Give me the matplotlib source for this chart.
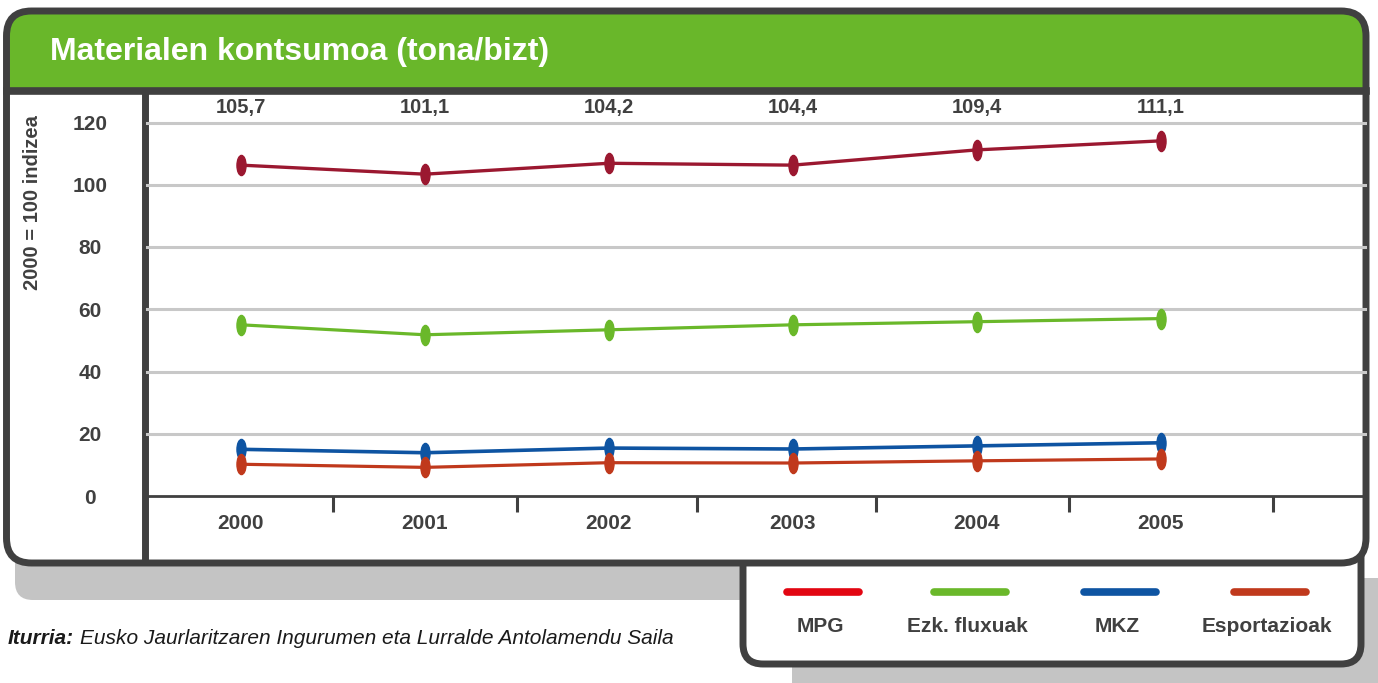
import numpy as np
import matplotlib
matplotlib.use("Agg")
import matplotlib.pyplot as plt
from matplotlib.patches import FancyBboxPatch, Rectangle
from matplotlib.path import Path

plt.rcParams['font.family'] = ['Liberation Sans', 'DejaVu Sans']

# data
years = ['2000', '2001', '2002', '2003', '2004', '2005']
mpg = [106.3, 103.4, 106.9, 106.3, 111.2, 114.1]
ezk = [55.0, 51.8, 53.4, 55.0, 56.0, 57.0]
mkz = [15.0, 13.9, 15.4, 15.1, 16.1, 17.1]
esport = [10.2, 9.2, 10.7, 10.6, 11.3, 11.9]
mpg_labels = ['105,7', '101,1', '104,2', '104,4', '109,4', '111,1']
yticks = [0, 20, 40, 60, 80, 100, 120]

series_names = ['MPG', 'Ezk. fluxuak', 'MKZ', 'Esportazioak']
line_colors = ['#9B1830', '#6AB82A', '#0E54A2', '#C0391C']
legend_colors = ['#E20612', '#6AB82A', '#0E54A2', '#C0391C']

dark = '#404040'
green = '#69B72A'
shadow = '#C4C4C4'

fig = plt.figure(figsize=(13.78, 6.83), dpi=100)

# background axes in pixel coords for the frame decoration
bg = fig.add_axes([0, 0, 1, 1])
bg.set_xlim(0, 1378)
bg.set_ylim(683, 0)
bg.axis('off')

bg.add_patch(FancyBboxPatch((15, 530), 745, 70, boxstyle='round,pad=0,rounding_size=18',
                            fc=shadow, ec='none', zorder=1))
bg.add_patch(FancyBboxPatch((792, 578), 640, 150, boxstyle='round,pad=0,rounding_size=20',
                            fc=shadow, ec='none', zorder=1))
# legend box
bg.add_patch(FancyBboxPatch((743, 530), 618, 134, boxstyle='round,pad=0,rounding_size=20',
                            fc='white', ec=dark, lw=5, zorder=2))
# main frame
bg.add_patch(FancyBboxPatch((6.5, 11), 1359.5, 552, boxstyle='round,pad=0,rounding_size=25',
                            fc='white', ec='none', zorder=3))
bg.add_patch(FancyBboxPatch((6.5, 11), 1359.5, 80, boxstyle='round,pad=0,rounding_size=25',
                            fc=green, ec='none', zorder=3))
bg.add_patch(Rectangle((6.5, 50), 1359.5, 41, fc=green, ec='none', zorder=3))
bg.plot([6.5, 1366], [91, 91], color=dark, lw=5.5, zorder=4)
bg.plot([144.5, 144.5], [91, 560], color=dark, lw=5, zorder=4)
bg.add_patch(FancyBboxPatch((6.5, 11), 1359.5, 552, boxstyle='round,pad=0,rounding_size=25',
                            fc='none', ec=dark, lw=5, zorder=5))

bg.text(50, 52, 'Materialen kontsumoa (tona/bizt)', color='white', fontsize=23,
        fontweight='bold', va='center', ha='left', zorder=6)
bg.text(33, 203, '2000 = 100 indizea', color=dark, fontsize=14.5, fontweight='bold',
        rotation=90, va='center', ha='center', zorder=6)

# legend entries
leg_x = [823, 970, 1120, 1270]
for name, col, cx in zip(series_names, legend_colors, leg_x):
    bg.plot([cx - 36, cx + 36], [592, 592], color=col, lw=5.5, solid_capstyle='round', zorder=6)
    bg.text(cx - 3, 626, name, color=dark, fontsize=15, fontweight='bold',
            ha='center', va='center', zorder=6)

# source
src1 = bg.text(8, 638, 'Iturria:', color='#1a1a1a', fontsize=15, fontweight='bold',
               style='italic', ha='left', va='center', zorder=6)
fig.canvas.draw()
ext = src1.get_window_extent()
bg.text(ext.x1 + 6, 638, 'Eusko Jaurlaritzaren Ingurumen eta Lurralde Antolamendu Saila',
        color='#1a1a1a', fontsize=15, style='italic', ha='left', va='center', zorder=6)

# main plot
ax = fig.add_axes([147 / 1378, (683 - 496) / 683, (1363 - 147) / 1378, (496 - 95) / 683])
ax.set_zorder(10)
ax.patch.set_alpha(0)
x = np.arange(len(years))
ax.set_xlim(-0.511, 6.10)
ax.set_ylim(0, (496 - 95) / 3.1125)

for yv in yticks[1:]:
    ax.axhline(yv, color='#C8C8C8', lw=2.2, zorder=1, clip_on=False, xmax=1.002)

circ = Path.unit_circle()
ell = Path(circ.vertices * [0.45, 1.0], circ.codes)
for vals, col, lw in zip([mpg, ezk, mkz, esport], line_colors, [2.4, 2.3, 2.6, 2.3]):
    ax.plot(x, vals, color=col, lw=lw, marker=ell, markersize=14.5, zorder=3)

for xi, lab in zip(x, mpg_labels):
    ax.text(xi, (496 - 108) / 3.1125, lab, color=dark, fontsize=14.5, fontweight='bold',
            ha='center', va='center')

for s in ['top', 'right', 'left']:
    ax.spines[s].set_visible(False)
ax.spines['bottom'].set_color(dark)
ax.spines['bottom'].set_linewidth(2)

ax.set_yticks(yticks)
ax.set_yticklabels([str(v) for v in yticks], ha='center')
ax.tick_params(axis='y', length=0, pad=41, labelsize=15, labelcolor=dark)
for t in ax.get_yticklabels():
    t.set_fontweight('bold')

ax.set_xticks(x)
ax.set_xticklabels(years)
ax.tick_params(axis='x', which='major', length=0, pad=13, labelsize=15, labelcolor=dark)
for t in ax.get_xticklabels():
    t.set_fontweight('bold')
ax.set_xticks([0.5, 1.5, 2.48, 3.45, 4.5, 5.61], minor=True)
ax.tick_params(axis='x', which='minor', length=11.5, width=2.2, color=dark, direction='out')

fig.savefig('out.png', dpi=100)
